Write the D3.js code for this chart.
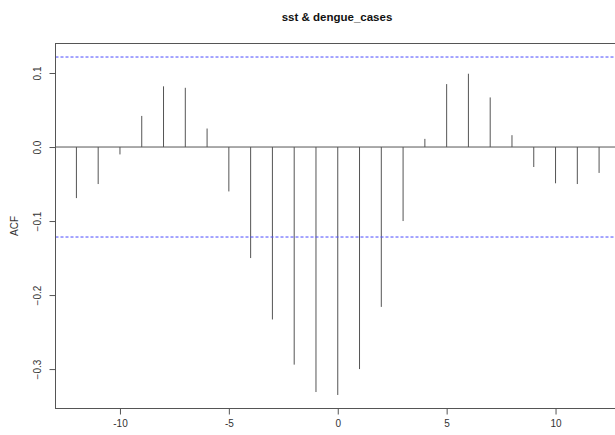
<!DOCTYPE html>
<html>
<head>
<meta charset="utf-8">
<script src="https://cdn.jsdelivr.net/npm/d3@7"></script>
<style>
  body { margin: 0; background: #fff; }
  svg { display: block; font-family: "Liberation Sans", Arial, sans-serif; }
</style>
</head>
<body>
<svg id="chart"></svg>
<script>
// cross-correlation, lags -12..12
const lags = d3.range(-12, 13);
const acf = [-0.069, -0.050, -0.010, 0.042, 0.082, 0.080, 0.025, -0.060,
             -0.150, -0.233, -0.294, -0.331, -0.335, -0.300, -0.216, -0.100,
             0.011, 0.085, 0.099, 0.067, 0.016, -0.027, -0.049, -0.050, -0.035];
const ci = 0.1216;
const xTicks = [-10, -5, 0, 5, 10];
const yTicks = [0.1, 0.0, -0.1, -0.2, -0.3];

const width = 615, height = 435;
const svg = d3.select("#chart").attr("width", width).attr("height", height);

// R style 4% padding on both axes
const xMin = -12, xMax = 12;
const yMin = d3.min(acf.concat([-ci])), yMax = d3.max(acf.concat([ci]));
const xPad = (xMax - xMin) * 0.04, yPad = (yMax - yMin) * 0.04;

const plotL = 55.5, plotR = 620, plotT = 43.5, plotB = 408.5;
const x = d3.scaleLinear().domain([xMin - xPad, xMax + xPad]).range([plotL, plotR]);
const y = d3.scaleLinear().domain([yMin - yPad, yMax + yPad]).range([plotB, plotT]);

const lineCol = "#555";

// zero line
svg.append("line")
    .attr("x1", plotL).attr("x2", plotR)
    .attr("y1", y(0)).attr("y2", y(0))
    .attr("stroke", lineCol).attr("stroke-width", 1);

// spikes
svg.selectAll(".spike")
    .data(lags.map((l, i) => [l, acf[i]]))
    .join("line")
    .attr("class", "spike")
    .attr("x1", d => x(d[0])).attr("x2", d => x(d[0]))
    .attr("y1", y(0)).attr("y2", d => y(d[1]))
    .attr("stroke", lineCol).attr("stroke-width", 1);

// confidence bands
svg.selectAll(".ci")
    .data([ci, -ci])
    .join("line")
    .attr("class", "ci")
    .attr("x1", plotL).attr("x2", plotR)
    .attr("y1", d => y(d)).attr("y2", d => y(d))
    .attr("stroke", "#4a4aff").attr("stroke-width", 1)
    .attr("stroke-dasharray", "3,2");

// box
svg.append("rect")
    .attr("x", plotL).attr("y", plotT)
    .attr("width", plotR - plotL).attr("height", plotB - plotT)
    .attr("fill", "none").attr("stroke", lineCol).attr("stroke-width", 1);

// x axis
const xAxis = svg.append("g")
    .attr("transform", `translate(0,${plotB})`)
    .call(d3.axisBottom(x).tickValues(xTicks).tickSize(6).tickPadding(5)
        .tickFormat(d => d < 0 ? "-" + Math.abs(d) : d));
xAxis.select(".domain").remove();
xAxis.selectAll("line").attr("stroke", lineCol);
xAxis.selectAll("text").attr("font-size", 10).attr("fill", "#333")
    .attr("font-family", "Liberation Sans, Arial, sans-serif");

// y axis with rotated labels
const yAxis = svg.append("g")
    .attr("transform", `translate(${plotL},0)`)
    .call(d3.axisLeft(y).tickValues(yTicks).tickSize(6).tickFormat(d3.format(".1f")));
yAxis.select(".domain").remove();
yAxis.selectAll("line").attr("stroke", lineCol);
yAxis.selectAll("text")
    .attr("font-size", 10).attr("fill", "#333")
    .attr("font-family", "Liberation Sans, Arial, sans-serif")
    .attr("text-anchor", "middle")
    .attr("x", 0).attr("dy", 0)
    .attr("transform", "translate(-17,0) rotate(-90)")
    .attr("dominant-baseline", "middle");

// axis title
svg.append("text")
    .attr("transform", `translate(15,${(plotT + plotB) / 2}) rotate(-90)`)
    .attr("text-anchor", "middle")
    .attr("dominant-baseline", "middle")
    .attr("font-size", 10).attr("fill", "#333")
    .text("ACF");

// main title
svg.append("text")
    .attr("x", 337).attr("y", 21)
    .attr("text-anchor", "middle")
    .attr("font-size", 11.5).attr("font-weight", "bold").attr("fill", "#111")
    .text("sst & dengue_cases");
</script>
</body>
</html>
